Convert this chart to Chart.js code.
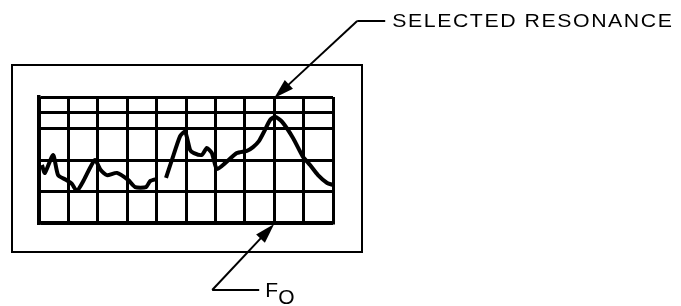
<!DOCTYPE html>
<html>
<head>
<meta charset="utf-8">
<script src="https://cdn.jsdelivr.net/npm/chart.js@4.4.1/dist/chart.umd.min.js"></script>
<style>
  html, body { margin: 0; padding: 0; background: #fff; }
  canvas { display: block; }
</style>
</head>
<body>
<canvas id="scope" width="681" height="306"></canvas>
<script>
// screen divisions
let xGridLines = [0, 1, 2, 3, 4, 5, 6, 7, 8, 9, 10];
let yGridLines = [0, 1, 2, 3, 3.5, 4];

// trace (null = gap in the trace)
let traceX = [0.1, 0.2, 0.48, 0.65, 0.92, 1.12, 1.29, 1.53, 1.9, 2.1, 2.31, 2.65, 3.03, 3.27, 3.64, 3.78, 4.01,
  4.16,
  4.32, 4.52, 4.8, 4.97, 5.14, 5.27, 5.54, 5.71, 5.88, 6.05, 6.33, 6.73, 7.07, 7.28, 7.48, 7.65, 7.86, 8.03,
  8.27, 8.64, 8.98, 9.22, 9.49, 9.8, 10.0];
let traceY = [1.84, 1.59, 2.16, 1.52, 1.37, 1.24, 1.02, 1.37, 2.0, 1.68, 1.52, 1.59, 1.37, 1.14, 1.14, 1.33, 1.40,
  null,
  1.43, 2.0, 2.76, 2.9, 2.32, 2.22, 2.16, 2.38, 2.22, 1.71, 1.9, 2.22, 2.29, 2.41, 2.6, 2.89, 3.27, 3.37,
  3.21, 2.7, 2.1, 1.84, 1.52, 1.27, 1.21];

let resonanceX = 8;
let resonanceLabel = "SELECTED RESONANCE";
let foLabel = ["F", "O"];

let arrow = (ctx, tipX, tipY, fromX, fromY) => {
  let ang = Math.atan2(tipY - fromY, tipX - fromX);
  let len = 20, half = 6;
  ctx.beginPath();
  ctx.moveTo(fromX, fromY);
  ctx.lineTo(tipX - Math.cos(ang) * len * 0.8, tipY - Math.sin(ang) * len * 0.8);
  ctx.stroke();
  ctx.beginPath();
  ctx.moveTo(tipX, tipY);
  ctx.lineTo(tipX - Math.cos(ang) * len - Math.sin(ang) * half, tipY - Math.sin(ang) * len + Math.cos(ang) * half);
  ctx.lineTo(tipX - Math.cos(ang) * len + Math.sin(ang) * half, tipY - Math.sin(ang) * len - Math.cos(ang) * half);
  ctx.closePath();
  ctx.fill();
};

// outer frame + the two callouts
let decorations = {
  id: "decorations",
  afterDraw(chart) {
    let {ctx, chartArea: a, scales} = chart;
    ctx.save();
    ctx.strokeStyle = "#000";
    ctx.fillStyle = "#000";
    ctx.lineWidth = 2;
    ctx.strokeRect(a.left - 27, a.top - 32, a.right - a.left + 56, a.bottom - a.top + 61);

    let px = scales.x.getPixelForValue(resonanceX);
    // selected resonance
    let ex = px + 83, ey = a.top - 76;
    arrow(ctx, px, a.top + 1, ex, ey);
    ctx.beginPath();
    ctx.moveTo(ex, ey);
    ctx.lineTo(ex + 28, ey);
    ctx.stroke();
    ctx.save();
    ctx.translate(ex + 35, ey + 1);
    ctx.scale(1.12, 1);
    ctx.font = "19px 'Liberation Sans', Arial, sans-serif";
    ctx.letterSpacing = "1.4px";
    ctx.textBaseline = "middle";
    ctx.fillText(resonanceLabel, 0, 0);
    ctx.restore();

    // F0
    let fx = px - 62, fy = a.bottom + 67;
    arrow(ctx, px, a.bottom + 1, fx, fy);
    ctx.beginPath();
    ctx.moveTo(fx, fy);
    ctx.lineTo(fx + 47, fy);
    ctx.stroke();
    ctx.font = "21px 'Liberation Sans', Arial, sans-serif";
    ctx.textBaseline = "middle";
    ctx.fillText(foLabel[0], fx + 53, fy + 1);
    ctx.fillText(foLabel[1], fx + 66, fy + 8);
    ctx.restore();
  }
};

new Chart("scope", {
  type: "scatter",
  data: {
    datasets: [{
      data: traceX.map((x, i) => ({x: x, y: traceY[i]})),
      showLine: true,
      spanGaps: false,
      borderColor: "#000",
      borderWidth: 4,
      tension: 0.2,
      pointRadius: 0
    }]
  },
  options: {
    responsive: false,
    animation: false,
    layout: {padding: {left: 39, top: 97, right: 348, bottom: 83}},
    plugins: {legend: {display: false}, tooltip: {enabled: false}},
    scales: {
      x: {
        type: "linear",
        min: 0,
        max: 10,
        afterBuildTicks: (s) => { s.ticks = xGridLines.map(v => ({value: v})); },
        ticks: {display: false},
        grid: {color: "#000", lineWidth: 3, drawTicks: false},
        border: {color: "#000", width: 3.5}
      },
      y: {
        min: 0,
        max: 4,
        afterBuildTicks: (s) => { s.ticks = yGridLines.map(v => ({value: v})); },
        ticks: {display: false},
        grid: {color: "#000", lineWidth: 3, drawTicks: false},
        border: {color: "#000", width: 3.5}
      }
    }
  },
  plugins: [decorations]
});
</script>
</body>
</html>
